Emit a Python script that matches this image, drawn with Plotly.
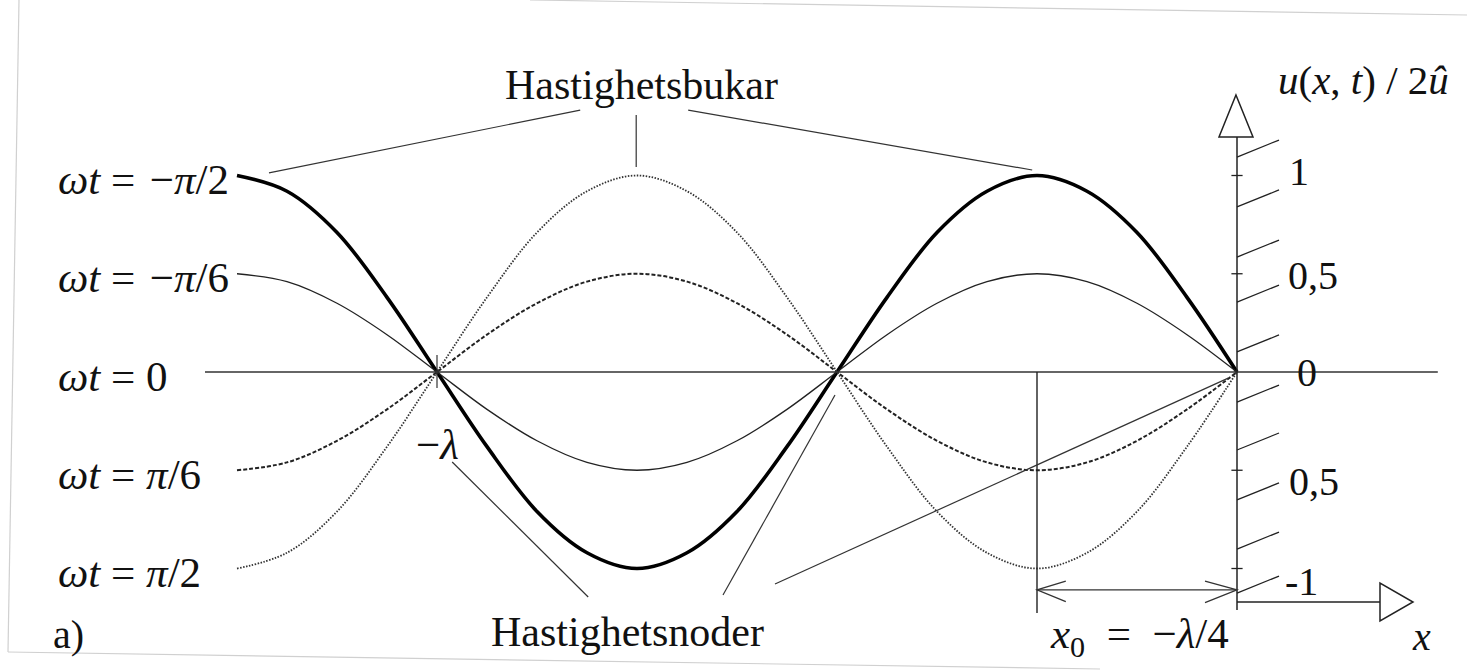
import plotly.graph_objects as go

# Positions along the string in wavelengths (steps of lambda/16)
x_lambda = [-1.25, -1.1875, -1.125, -1.0625, -1.0, -0.9375, -0.875, -0.8125, -0.75,
            -0.6875, -0.625, -0.5625, -0.5, -0.4375, -0.375, -0.3125, -0.25,
            -0.1875, -0.125, -0.0625, 0.0]

# u(x,t)/2û at those positions for five instants of time
u_wt_minus_pi2 = [1.0, 0.92, 0.71, 0.38, 0.0, -0.38, -0.71, -0.92, -1.0,
                  -0.92, -0.71, -0.38, 0.0, 0.38, 0.71, 0.92, 1.0,
                  0.92, 0.71, 0.38, 0.0]
u_wt_minus_pi6 = [0.5, 0.46, 0.35, 0.19, 0.0, -0.19, -0.35, -0.46, -0.5,
                  -0.46, -0.35, -0.19, 0.0, 0.19, 0.35, 0.46, 0.5,
                  0.46, 0.35, 0.19, 0.0]
u_wt_zero = [0.0] * 21
u_wt_plus_pi6 = [-0.5, -0.46, -0.35, -0.19, 0.0, 0.19, 0.35, 0.46, 0.5,
                 0.46, 0.35, 0.19, 0.0, -0.19, -0.35, -0.46, -0.5,
                 -0.46, -0.35, -0.19, 0.0]
u_wt_plus_pi2 = [-1.0, -0.92, -0.71, -0.38, 0.0, 0.38, 0.71, 0.92, 1.0,
                 0.92, 0.71, 0.38, 0.0, -0.38, -0.71, -0.92, -1.0,
                 -0.92, -0.71, -0.38, 0.0]

curve_labels = [
    "<i>ωt</i> = \u200a−<i>π</i>/2",
    "<i>ωt</i> = \u200a−<i>π</i>/6",
    "<i>ωt</i> = 0",
    "<i>ωt</i> = <i>π</i>/6",
    "<i>ωt</i> = <i>π</i>/2",
]

y_ticks = [1.0, 0.5, 0.0, -0.5, -1.0]
y_tick_text = ["1", "0,5", "0", "0,5", "-1"]

# velocity antinodes and velocity nodes that the callouts point at
antinode_x = [-1.25, -0.75, -0.25]
node_x = [-1.0, -0.5, 0.0]
x0 = -0.25

SERIF = "Liberation Serif, Times New Roman, serif"
W, H = 1467, 670
X_RANGE = [-1.54625, 0.2875]
Y_RANGE = [-1.5165, 1.8931]

fig = go.Figure()

curve_styles = [
    dict(color="#000000", width=3.6, dash="solid"),
    dict(color="#222222", width=1.3, dash="solid"),
    None,
    dict(color="#222222", width=2.0, dash="4px,2px"),
    dict(color="#333333", width=1.8, dash="1.5px,1.5px"),
]
series = [u_wt_minus_pi2, u_wt_minus_pi6, u_wt_zero, u_wt_plus_pi6, u_wt_plus_pi2]

# zero line (ωt = 0) runs from the label past the origin
fig.add_shape(type="line", x0=-1.29, x1=0.251, y0=0, y1=0,
              line=dict(color="#333333", width=1.5), xref="x", yref="y")

for vals, st in zip(series, curve_styles):
    if st is None:
        continue
    fig.add_trace(go.Scatter(
        x=x_lambda, y=vals, mode="lines",
        line=dict(shape="spline", smoothing=1.0, **st),
        hoverinfo="skip", showlegend=False,
    ))

# left labels for each instant
for lab, vals in zip(curve_labels, series):
    fig.add_annotation(x=-1.476, y=vals[0], text=lab, showarrow=False,
                       xanchor="left", yanchor="middle", yshift=-4,
                       font=dict(family=SERIF, size=43, color="#111111"))

# vertical axis with open arrow head
ax_line = dict(color="#222222", width=1.5)
fig.add_shape(type="line", x0=0, x1=0, y0=-1.211, y1=1.196, line=ax_line)
fig.add_shape(type="path",
              path="M -0.0225 1.196 L 0.0200 1.196 L -0.0013 1.41 Z",
              line=dict(color="#222222", width=1.5), fillcolor="white")

# hatching along the vertical axis
hatch_u = [1.094, 0.840, 0.585, 0.356, 0.102, -0.153, -0.397, -0.651, -0.901, -1.125]
for hu in hatch_u:
    fig.add_shape(type="line", x0=0, x1=0.0525, y0=hu, y1=hu + 0.0865,
                  line=dict(color="#222222", width=1.3))

# small tick marks on the vertical axis
for t in y_ticks:
    if t == 0:
        continue
    fig.add_shape(type="line", x0=-0.007, x1=0.007, y0=t, y1=t,
                  line=dict(color="#222222", width=1.3))

tick_label_dy = [4, -2, 0, -11, -13]
tick_label_x = [0.078, 0.095, 0.088, 0.096, 0.081]
for t, txt, dy, tx in zip(y_ticks, y_tick_text, tick_label_dy, tick_label_x):
    fig.add_annotation(x=tx, y=t, text=txt, showarrow=False,
                       xanchor="center", yanchor="middle", yshift=dy,
                       font=dict(family=SERIF, size=40, color="#111111"))

fig.add_annotation(x=0.158, y=1.485, text="<i>u</i>(<i>x</i>, <i>t</i>) / 2<i>û</i>",
                   showarrow=False, xanchor="center", yanchor="middle",
                   font=dict(family=SERIF, size=41, color="#111111"))

# horizontal x axis with open arrow head
fig.add_shape(type="line", x0=0, x1=0.17875, y0=-1.1705, y1=-1.1705, line=ax_line)
fig.add_shape(type="path",
              path="M 0.17875 -1.0738 L 0.17875 -1.2672 L 0.22 -1.1705 Z",
              line=dict(color="#222222", width=1.5), fillcolor="white")
fig.add_annotation(x=0.231, y=-1.345, text="<i>x</i>", showarrow=False,
                   xanchor="center", yanchor="middle",
                   font=dict(family=SERIF, size=40, color="#111111"))

# x0 marker with double arrow
fig.add_shape(type="line", x0=x0, x1=x0, y0=0, y1=-1.226,
              line=dict(color="#222222", width=1.4))
ya = -1.109
fig.add_shape(type="line", x0=x0, x1=0, y0=ya, y1=ya,
              line=dict(color="#333333", width=1.4))
fig.add_shape(type="path",
              path=f"M {x0 + 0.036} {ya + 0.045} L {x0} {ya} L {x0 + 0.036} {ya - 0.06}",
              line=dict(color="#333333", width=1.3))
fig.add_shape(type="path",
              path=f"M {-0.04} {ya + 0.045} L 0 {ya} L {-0.04} {ya - 0.065}",
              line=dict(color="#333333", width=1.3))
fig.add_annotation(x=-0.1225, y=-1.35, text="<i>x</i><sub>0</sub>  =  −<i>λ</i>/4",
                   showarrow=False, xanchor="center", yanchor="middle",
                   font=dict(family=SERIF, size=43, color="#111111"))

# tick at -lambda
fig.add_shape(type="line", x0=-1.0, x1=-1.0, y0=0.087, y1=-0.081,
              line=dict(color="#333333", width=1.2))
fig.add_annotation(x=-1.0, y=-0.37, text="−<i>λ</i>", showarrow=False,
                   xanchor="center", yanchor="middle",
                   font=dict(family=SERIF, size=43, color="#111111"))

# callouts: velocity antinodes
thin = dict(color="#333333", width=1.2)
fig.add_annotation(x=-0.745, y=1.46, text="Hastighetsbukar", showarrow=False,
                   xanchor="center", yanchor="middle",
                   font=dict(family=SERIF, size=42, color="#111111"))
fig.add_shape(type="line", x0=-0.821, y0=1.333, x1=antinode_x[0] + 0.04, y1=1.013, line=thin)
fig.add_shape(type="line", x0=antinode_x[1] - 0.001, y0=1.308, x1=antinode_x[1] - 0.001, y1=1.043, line=thin)
fig.add_shape(type="line", x0=-0.686, y0=1.333, x1=antinode_x[2] - 0.006, y1=1.028, line=thin)

# callouts: velocity nodes
fig.add_annotation(x=-0.7625, y=-1.323, text="Hastighetsnoder", showarrow=False,
                   xanchor="center", yanchor="middle",
                   font=dict(family=SERIF, size=42, color="#111111"))
fig.add_shape(type="line", x0=node_x[0] + 0.019, y0=-0.458, x1=-0.811, y1=-1.145, line=thin)
fig.add_shape(type="line", x0=node_x[1] - 0.0025, y0=-0.117, x1=-0.6425, y1=-1.135, line=thin)
fig.add_shape(type="line", x0=node_x[2] - 0.011, y0=-0.031, x1=-0.5775, y1=-1.079, line=thin)

# panel letter
fig.add_annotation(x=-1.4825, y=-1.335, text="a)", showarrow=False,
                   xanchor="left", yanchor="middle",
                   font=dict(family=SERIF, size=40, color="#111111"))

# faint edges of the scanned page
edge = dict(color="#d0d0d0", width=1.2)
fig.add_shape(type="line", xref="paper", yref="paper",
              x0=530 / W, y0=1, x1=1, y1=1 - 15 / H, line=edge)
fig.add_shape(type="line", xref="paper", yref="paper",
              x0=19 / W, y0=1, x1=8 / W, y1=1 - 652 / H, line=edge)
fig.add_shape(type="line", xref="paper", yref="paper",
              x0=8 / W, y0=1 - 652 / H, x1=1100 / W, y1=1 - 669 / H, line=edge)

fig.update_layout(
    width=W, height=H,
    margin=dict(l=0, r=0, t=0, b=0),
    paper_bgcolor="white", plot_bgcolor="white",
    xaxis=dict(range=X_RANGE, visible=False, fixedrange=True),
    yaxis=dict(range=Y_RANGE, visible=False, fixedrange=True),
    showlegend=False,
)

fig.write_html("out.html")
